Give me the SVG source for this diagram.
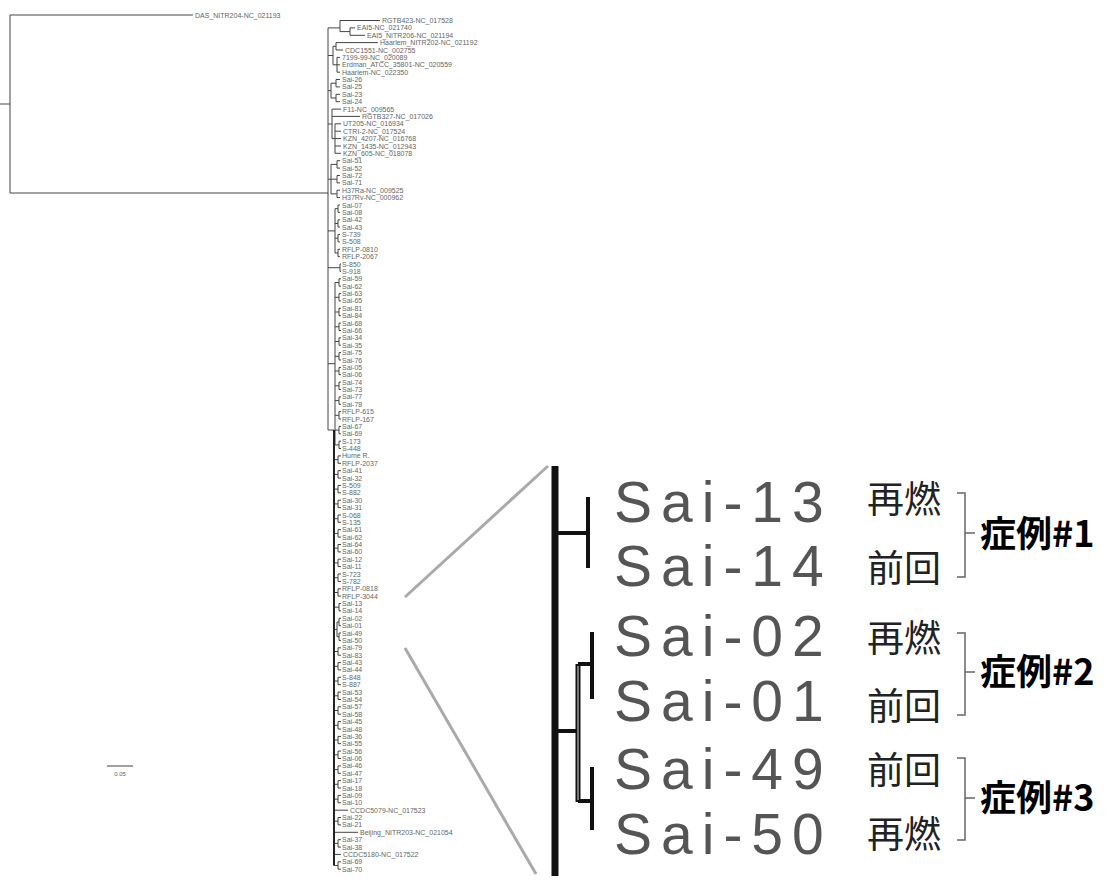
<svg xmlns="http://www.w3.org/2000/svg" width="1111" height="894" viewBox="0 0 1111 894">
<style>
.lf{font-family:"Liberation Sans",Arial,sans-serif;font-size:7px;fill:#666}
.tr{fill:none;stroke:#444;stroke-width:1}
.bb{fill:none;stroke:#222;stroke-width:2}
.zl{fill:none;stroke:#aaa;stroke-width:3}
.it{fill:none;stroke:#111;stroke-width:4}
.br{fill:none;stroke:#666;stroke-width:1.5}
.big{font-family:"Liberation Sans",Arial,sans-serif;font-size:57px;letter-spacing:9px;fill:#555}
.jp{font-family:"Noto Sans CJK JP",sans-serif;font-size:37px;fill:#222}
.case{font-family:"Noto Sans CJK JP",sans-serif;font-size:36px;font-weight:bold;fill:#000}
</style>
<rect width="1111" height="894" fill="#fff"/>
<g id="connectors">
<path class="tr" d="M0,104H10M10,15V193M10,15H193M10,193H328M328,27.9V430
M328,27.9H340M340,20.5V31.6M340,20.5H380M340,31.6H350M350,27.9V35.3M350,27.9H355M350,35.3H365
M328,55.5H333M333,46.3V64.8M333,46.3H336M336,42.6V50M336,42.6H378M336,50H343M333,64.8H337M337,57.4V72.2M337,57.4H340M337,64.8H340M337,72.2H340
M328,90.6H331M331,83.2V98M331,83.2H336M336,79.5V86.9M336,79.5H340M336,86.9H340M331,98H336M336,94.3V101.7M336,94.3H340M336,101.7H340
M328,124H332M332,109.1V138.6M332,109.1H341M332,116.4H360M332,138.6H335M335,123.8V153.3M335,123.8H341M335,131.2H341M335,138.6H341M335,146H341M335,153.3H341
M328,179.2H331M331,164.4V193.9M331,164.4H337M337,160.7V168.1M337,160.7H340M337,168.1H340M331,179.2H337M337,175.5V182.9M337,175.5H340M337,182.9H340M331,193.9H337M337,190.2V197.6M337,190.2H340M337,197.6H340
M328,230.9H335M335,208.7V253
M335,208.7H338M338,205V212.4M338,205H340M338,212.4H340
M335,223.5H338M338,219.8V227.1M338,219.8H340M338,227.1H340
M335,238.2H338M338,234.5V241.9M338,234.5H340M338,241.9H340
M335,253H338M338,249.3V256.7M338,249.3H340M338,256.7H340
M328,267.7H340M340,264V271.4M340,264H341M340,271.4H341
M328,363.7H335M335,282.5V444.9
M335,282.5H339M339,278.8V286.2M339,278.8H341M339,286.2H341
M335,297.3H339M339,293.6V300.9M339,293.6H341M339,300.9H341
M335,312H339M339,308.3V315.7M339,308.3H341M339,315.7H341
M335,326.8H339M339,323.1V330.5M339,323.1H341M339,330.5H341
M335,341.5H339M339,337.8V345.2M339,337.8H341M339,345.2H341
M335,356.3H339M339,352.6V360M339,352.6H341M339,360H341
M335,371H339M339,367.4V374.7M339,367.4H341M339,374.7H341
M335,385.8H339M339,382.1V389.5M339,382.1H341M339,389.5H341
M335,400.6H339M339,396.9V404.3M339,396.9H341M339,404.3H341
M335,415.3H339M339,411.6V419M339,411.6H341M339,419H341
M335,430.1H339M339,426.4V433.8M339,426.4H341M339,433.8H341
M335,444.9H339M339,441.2V448.5M339,441.2H341M339,448.5H341
M328,430H334
M334,459.6H338M338,455.9V463.3M338,455.9H341M338,463.3H341
M334,474.4H338M338,470.7V478.1M338,470.7H341M338,478.1H341
M334,489.1H338M338,485.4V492.8M338,485.4H341M338,492.8H341
M334,503.9H338M338,500.2V507.6M338,500.2H341M338,507.6H341
M334,518.7H338M338,515V522.3M338,515H341M338,522.3H341
M334,533.4H338M338,529.7V537.1M338,529.7H341M338,537.1H341
M334,548.2H338M338,544.5V551.9M338,544.5H341M338,551.9H341
M334,562.9H338M338,559.2V566.6M338,559.2H341M338,566.6H341
M334,577.7H338M338,574V581.4M338,574H341M338,581.4H341
M334,592.5H338M338,588.8V596.1M338,588.8H341M338,596.1H341
M334,607.2H339M339,603.5V610.9M339,603.5H341M339,610.9H341
M334,629.4H337M337,622V636.7M337,622H339M339,618.3V625.7M339,618.3H341M339,625.7H341M337,636.7H339M339,633V640.4M339,633H341M339,640.4H341
M334,651.5H338M338,647.8V655.2M338,647.8H341M338,655.2H341
M334,666.3H338M338,662.6V669.9M338,662.6H341M338,669.9H341
M334,681H338M338,677.3V684.7M338,677.3H341M338,684.7H341
M334,695.8H338M338,692.1V699.5M338,692.1H341M338,699.5H341
M334,710.5H338M338,706.8V714.2M338,706.8H341M338,714.2H341
M334,725.3H338M338,721.6V729M338,721.6H341M338,729H341
M334,740H338M338,736.4V743.7M338,736.4H341M338,743.7H341
M334,754.8H338M338,751.1V758.5M338,751.1H341M338,758.5H341
M334,769.6H338M338,765.9V773.3M338,765.9H341M338,773.3H341
M334,784.3H338M338,780.6V788M338,780.6H341M338,788H341
M334,799.1H338M338,795.4V802.8M338,795.4H341M338,802.8H341
M334,810.2H348
M334,821.2H338M338,817.5V824.9M338,817.5H341M338,824.9H341
M334,832.3H358
M334,843.4H338M338,839.7V847.1M338,839.7H341M338,847.1H341
M334,854.4H341
M334,865.5H338M338,861.8V869.2M338,861.8H341M338,869.2H341"/>
<path class="bb" d="M334,430V865.5"/>
<path class="tr" d="M107,766H133"/>
<path class="zl" d="M548,466L405,597M405,648L536,874"/>
<path fill="none" stroke="#111" stroke-width="7" d="M555,466V876"/>
<path class="it" d="M555,533H588M588,497V568M555,731H578M578,664H592M592,632V699M578,801H592M592,767V830"/>
<path fill="none" stroke="#111" stroke-width="5" d="M578,664V802"/>
<path fill="none" stroke="#999" stroke-width="1.5" d="M578,666V800"/>
<path class="br" d="M957,493h8v84h-8M965,533h10M957,633h8v82h-8M965,672h10M957,758h8v82h-8M965,798h10"/>
</g>
<g id="leaves" class="lf">
<text id="l0" x="195" y="17.5">DAS_NITR204-NC_021193</text>
<text id="l1" x="382" y="23">RGTB423-NC_017528</text>
<text id="l2" x="357" y="30.4">EAI5-NC_021740</text>
<text id="l3" x="367" y="37.8">EAI5_NITR206-NC_021194</text>
<text id="l4" x="380" y="45.1">Haarlem_NITR202-NC_021192</text>
<text id="l5" x="345" y="52.5">CDC1551-NC_002755</text>
<text id="l6" x="342" y="59.9">7199-99-NC_020089</text>
<text id="l7" x="342" y="67.3">Erdman_ATCC_35801-NC_020559</text>
<text id="l8" x="342" y="74.7">Haarlem-NC_022350</text>
<text id="l9" x="342" y="82">Sai-26</text>
<text id="l10" x="342" y="89.4">Sai-25</text>
<text id="l11" x="342" y="96.8">Sai-23</text>
<text id="l12" x="342" y="104.2">Sai-24</text>
<text id="l13" x="343" y="111.6">F11-NC_009565</text>
<text id="l14" x="362" y="118.9">RGTB327-NC_017026</text>
<text id="l15" x="343" y="126.3">UT205-NC_016934</text>
<text id="l16" x="343" y="133.7">CTRI-2-NC_017524</text>
<text id="l17" x="343" y="141.1">KZN_4207-NC_016768</text>
<text id="l18" x="343" y="148.5">KZN_1435-NC_012943</text>
<text id="l19" x="343" y="155.8">KZN_605-NC_018078</text>
<text id="l20" x="342" y="163.2">Sai-51</text>
<text id="l21" x="342" y="170.6">Sai-52</text>
<text id="l22" x="342" y="178">Sai-72</text>
<text id="l23" x="342" y="185.4">Sai-71</text>
<text id="l24" x="342" y="192.7">H37Ra-NC_009525</text>
<text id="l25" x="342" y="200.1">H37Rv-NC_000962</text>
<text id="l26" x="342" y="207.5">Sai-07</text>
<text id="l27" x="342" y="214.9">Sai-08</text>
<text id="l28" x="342" y="222.3">Sai-42</text>
<text id="l29" x="342" y="229.6">Sai-43</text>
<text id="l30" x="342" y="237">S-739</text>
<text id="l31" x="342" y="244.4">S-508</text>
<text id="l32" x="342" y="251.8">RFLP-0810</text>
<text id="l33" x="342" y="259.2">RFLP-2067</text>
<text id="l34" x="342" y="266.5">S-850</text>
<text id="l35" x="342" y="273.9">S-918</text>
<text id="l36" x="342" y="281.3">Sai-59</text>
<text id="l37" x="342" y="288.7">Sai-62</text>
<text id="l38" x="342" y="296.1">Sai-63</text>
<text id="l39" x="342" y="303.4">Sai-65</text>
<text id="l40" x="342" y="310.8">Sai-81</text>
<text id="l41" x="342" y="318.2">Sai-84</text>
<text id="l42" x="342" y="325.6">Sai-68</text>
<text id="l43" x="342" y="333">Sai-66</text>
<text id="l44" x="342" y="340.3">Sai-34</text>
<text id="l45" x="342" y="347.7">Sai-35</text>
<text id="l46" x="342" y="355.1">Sai-75</text>
<text id="l47" x="342" y="362.5">Sai-76</text>
<text id="l48" x="342" y="369.9">Sai-05</text>
<text id="l49" x="342" y="377.2">Sai-06</text>
<text id="l50" x="342" y="384.6">Sai-74</text>
<text id="l51" x="342" y="392">Sai-73</text>
<text id="l52" x="342" y="399.4">Sai-77</text>
<text id="l53" x="342" y="406.8">Sai-78</text>
<text id="l54" x="342" y="414.1">RFLP-615</text>
<text id="l55" x="342" y="421.5">RFLP-167</text>
<text id="l56" x="342" y="428.9">Sai-67</text>
<text id="l57" x="342" y="436.3">Sai-69</text>
<text id="l58" x="342" y="443.7">S-173</text>
<text id="l59" x="342" y="451">S-448</text>
<text id="l60" x="342" y="458.4">Hume R.</text>
<text id="l61" x="342" y="465.8">RFLP-2037</text>
<text id="l62" x="342" y="473.2">Sai-41</text>
<text id="l63" x="342" y="480.6">Sai-32</text>
<text id="l64" x="342" y="487.9">S-509</text>
<text id="l65" x="342" y="495.3">S-882</text>
<text id="l66" x="342" y="502.7">Sai-30</text>
<text id="l67" x="342" y="510.1">Sai-31</text>
<text id="l68" x="342" y="517.5">S-068</text>
<text id="l69" x="342" y="524.8">S-135</text>
<text id="l70" x="342" y="532.2">Sai-61</text>
<text id="l71" x="342" y="539.6">Sai-62</text>
<text id="l72" x="342" y="547">Sai-64</text>
<text id="l73" x="342" y="554.4">Sai-60</text>
<text id="l74" x="342" y="561.7">Sai-12</text>
<text id="l75" x="342" y="569.1">Sai-11</text>
<text id="l76" x="342" y="576.5">S-723</text>
<text id="l77" x="342" y="583.9">S-782</text>
<text id="l78" x="342" y="591.3">RFLP-0818</text>
<text id="l79" x="342" y="598.6">RFLP-3044</text>
<text id="l80" x="342" y="606">Sai-13</text>
<text id="l81" x="342" y="613.4">Sai-14</text>
<text id="l82" x="342" y="620.8">Sai-02</text>
<text id="l83" x="342" y="628.2">Sai-01</text>
<text id="l84" x="342" y="635.5">Sai-49</text>
<text id="l85" x="342" y="642.9">Sai-50</text>
<text id="l86" x="342" y="650.3">Sai-79</text>
<text id="l87" x="342" y="657.7">Sai-83</text>
<text id="l88" x="342" y="665.1">Sai-43</text>
<text id="l89" x="342" y="672.4">Sai-44</text>
<text id="l90" x="342" y="679.8">S-848</text>
<text id="l91" x="342" y="687.2">S-887</text>
<text id="l92" x="342" y="694.6">Sai-53</text>
<text id="l93" x="342" y="702">Sai-54</text>
<text id="l94" x="342" y="709.3">Sai-57</text>
<text id="l95" x="342" y="716.7">Sai-58</text>
<text id="l96" x="342" y="724.1">Sai-45</text>
<text id="l97" x="342" y="731.5">Sai-48</text>
<text id="l98" x="342" y="738.9">Sai-36</text>
<text id="l99" x="342" y="746.2">Sai-55</text>
<text id="l100" x="342" y="753.6">Sai-56</text>
<text id="l101" x="342" y="761">Sai-06</text>
<text id="l102" x="342" y="768.4">Sai-46</text>
<text id="l103" x="342" y="775.8">Sai-47</text>
<text id="l104" x="342" y="783.1">Sai-17</text>
<text id="l105" x="342" y="790.5">Sai-18</text>
<text id="l106" x="342" y="797.9">Sai-09</text>
<text id="l107" x="342" y="805.3">Sai-10</text>
<text id="l108" x="350" y="812.7">CCDC5079-NC_017523</text>
<text id="l109" x="342" y="820">Sai-22</text>
<text id="l110" x="342" y="827.4">Sai-21</text>
<text id="l111" x="360" y="834.8">Beijing_NITR203-NC_021054</text>
<text id="l112" x="342" y="842.2">Sai-37</text>
<text id="l113" x="342" y="849.6">Sai-38</text>
<text id="l114" x="343" y="856.9">CCDC5180-NC_017522</text>
<text id="l115" x="342" y="864.3">Sai-69</text>
<text id="l116" x="342" y="871.7">Sai-70</text>
<text id="scale" x="120" y="776" text-anchor="middle" font-size="6">0.05</text>
</g>
<g id="case1">
<text class="big" x="614" y="522">Sai-13</text>
<text class="big" x="614" y="586">Sai-14</text>
<text class="jp" x="867" y="513">再燃</text>
<text class="jp" x="867" y="582">前回</text>
<text class="case" x="980" y="547">症例#1</text>
</g>
<g id="case2">
<text class="big" x="614" y="656">Sai-02</text>
<text class="big" x="614" y="721">Sai-01</text>
<text class="jp" x="867" y="652">再燃</text>
<text class="jp" x="867" y="720">前回</text>
<text class="case" x="980" y="685">症例#2</text>
</g>
<g id="case3">
<text class="big" x="614" y="789">Sai-49</text>
<text class="big" x="614" y="854">Sai-50</text>
<text class="jp" x="867" y="784">前回</text>
<text class="jp" x="867" y="848">再燃</text>
<text class="case" x="980" y="811">症例#3</text>
</g>
</svg>
